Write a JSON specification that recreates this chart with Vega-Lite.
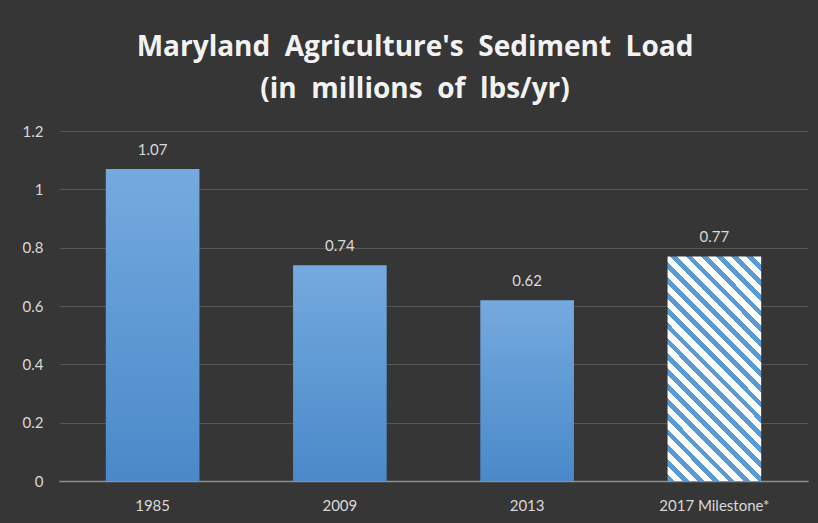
{
  "$schema": "https://vega.github.io/schema/vega-lite/v6.json",
  "width": 818,
  "height": 523,
  "autosize": {"type": "fit", "contains": "padding"},
  "padding": {"left": 22, "right": 10, "top": 34, "bottom": 10},
  "background": "#363636",
  "config": {
    "view": {"stroke": null},
    "font": "Lato",
    "title": {"font": "Open Sans"},
    "axis": {"labelFont": "Lato", "labelFontSize": 15, "labelColor": "#d9d9d9"}
  },
  "title": {
    "text": ["Maryland\u00a0 Agriculture's\u00a0 Sediment\u00a0 Load", "(in\u00a0 millions\u00a0 of\u00a0 lbs/yr)"],
    "font": "Open Sans",
    "fontSize": 28,
    "fontWeight": "bold",
    "color": "#f2f2f2",
    "lineHeight": 42,
    "anchor": "middle",
    "frame": "bounds",
    "offset": 20
  },
  "data": {
    "values": [
      {"label": "1985", "value": 1.07, "kind": "actual"},
      {"label": "2009", "value": 0.74, "kind": "actual"},
      {"label": "2013", "value": 0.62, "kind": "actual"},
      {"label": "2017 Milestone*", "value": 0.77, "kind": "milestone"}
    ]
  },
  "encoding": {
    "x": {
      "field": "label",
      "type": "nominal",
      "sort": null,
      "scale": {"paddingInner": 0.5, "paddingOuter": 0.25},
      "axis": {"title": null, "labelAngle": 0, "ticks": false, "domain": true, "domainColor": "#8f8f8f", "domainWidth": 1.5, "labelPadding": 17}
    },
    "y": {
      "field": "value",
      "type": "quantitative",
      "scale": {"domain": [0, 1.2], "nice": false},
      "axis": {"title": null, "values": [0, 0.2, 0.4, 0.6, 0.8, 1, 1.2], "format": "~g", "domain": false, "ticks": false, "gridColor": "#575757", "gridWidth": 1, "labelPadding": 16}
    }
  },
  "layer": [
    {
      "transform": [{"filter": "datum.kind == 'actual'"}],
      "mark": {
        "type": "bar",
        "fill": {
          "gradient": "linear", "x1": 0, "y1": 0, "x2": 0, "y2": 1,
          "stops": [{"offset": 0, "color": "#74aadf"}, {"offset": 1, "color": "#4a89c9"}]
        }
      }
    },
    {
      "transform": [{"filter": "datum.kind == 'milestone'"}],
      "mark": {
        "type": "bar",
        "fill": {
          "gradient": "linear", "x1": 0, "y1": 1, "x2": 0.5043, "y2": -0.2071,
          "stops": [
            {"offset": 0, "color": "#5b9bd5"}, {"offset": 0.02143, "color": "#5b9bd5"}, {"offset": 0.02143, "color": "#ffffff"}, {"offset": 0.04762, "color": "#ffffff"},
            {"offset": 0.04762, "color": "#5b9bd5"}, {"offset": 0.06905, "color": "#5b9bd5"}, {"offset": 0.06905, "color": "#ffffff"}, {"offset": 0.09524, "color": "#ffffff"},
            {"offset": 0.09524, "color": "#5b9bd5"}, {"offset": 0.11667, "color": "#5b9bd5"}, {"offset": 0.11667, "color": "#ffffff"}, {"offset": 0.14286, "color": "#ffffff"},
            {"offset": 0.14286, "color": "#5b9bd5"}, {"offset": 0.16429, "color": "#5b9bd5"}, {"offset": 0.16429, "color": "#ffffff"}, {"offset": 0.19048, "color": "#ffffff"},
            {"offset": 0.19048, "color": "#5b9bd5"}, {"offset": 0.2119, "color": "#5b9bd5"}, {"offset": 0.2119, "color": "#ffffff"}, {"offset": 0.2381, "color": "#ffffff"},
            {"offset": 0.2381, "color": "#5b9bd5"}, {"offset": 0.25952, "color": "#5b9bd5"}, {"offset": 0.25952, "color": "#ffffff"}, {"offset": 0.28571, "color": "#ffffff"},
            {"offset": 0.28571, "color": "#5b9bd5"}, {"offset": 0.30714, "color": "#5b9bd5"}, {"offset": 0.30714, "color": "#ffffff"}, {"offset": 0.33333, "color": "#ffffff"},
            {"offset": 0.33333, "color": "#5b9bd5"}, {"offset": 0.35476, "color": "#5b9bd5"}, {"offset": 0.35476, "color": "#ffffff"}, {"offset": 0.38095, "color": "#ffffff"},
            {"offset": 0.38095, "color": "#5b9bd5"}, {"offset": 0.40238, "color": "#5b9bd5"}, {"offset": 0.40238, "color": "#ffffff"}, {"offset": 0.42857, "color": "#ffffff"},
            {"offset": 0.42857, "color": "#5b9bd5"}, {"offset": 0.45, "color": "#5b9bd5"}, {"offset": 0.45, "color": "#ffffff"}, {"offset": 0.47619, "color": "#ffffff"},
            {"offset": 0.47619, "color": "#5b9bd5"}, {"offset": 0.49762, "color": "#5b9bd5"}, {"offset": 0.49762, "color": "#ffffff"}, {"offset": 0.52381, "color": "#ffffff"},
            {"offset": 0.52381, "color": "#5b9bd5"}, {"offset": 0.54524, "color": "#5b9bd5"}, {"offset": 0.54524, "color": "#ffffff"}, {"offset": 0.57143, "color": "#ffffff"},
            {"offset": 0.57143, "color": "#5b9bd5"}, {"offset": 0.59286, "color": "#5b9bd5"}, {"offset": 0.59286, "color": "#ffffff"}, {"offset": 0.61905, "color": "#ffffff"},
            {"offset": 0.61905, "color": "#5b9bd5"}, {"offset": 0.64048, "color": "#5b9bd5"}, {"offset": 0.64048, "color": "#ffffff"}, {"offset": 0.66667, "color": "#ffffff"},
            {"offset": 0.66667, "color": "#5b9bd5"}, {"offset": 0.6881, "color": "#5b9bd5"}, {"offset": 0.6881, "color": "#ffffff"}, {"offset": 0.71429, "color": "#ffffff"},
            {"offset": 0.71429, "color": "#5b9bd5"}, {"offset": 0.73571, "color": "#5b9bd5"}, {"offset": 0.73571, "color": "#ffffff"}, {"offset": 0.7619, "color": "#ffffff"},
            {"offset": 0.7619, "color": "#5b9bd5"}, {"offset": 0.78333, "color": "#5b9bd5"}, {"offset": 0.78333, "color": "#ffffff"}, {"offset": 0.80952, "color": "#ffffff"},
            {"offset": 0.80952, "color": "#5b9bd5"}, {"offset": 0.83095, "color": "#5b9bd5"}, {"offset": 0.83095, "color": "#ffffff"}, {"offset": 0.85714, "color": "#ffffff"},
            {"offset": 0.85714, "color": "#5b9bd5"}, {"offset": 0.87857, "color": "#5b9bd5"}, {"offset": 0.87857, "color": "#ffffff"}, {"offset": 0.90476, "color": "#ffffff"},
            {"offset": 0.90476, "color": "#5b9bd5"}, {"offset": 0.92619, "color": "#5b9bd5"}, {"offset": 0.92619, "color": "#ffffff"}, {"offset": 0.95238, "color": "#ffffff"},
            {"offset": 0.95238, "color": "#5b9bd5"}, {"offset": 0.97381, "color": "#5b9bd5"}, {"offset": 0.97381, "color": "#ffffff"}, {"offset": 1, "color": "#ffffff"}
          ]
        }
      }
    },
    {
      "mark": {"type": "text", "baseline": "bottom", "dy": -11, "fontSize": 15, "font": "Lato", "color": "#d9d9d9"},
      "encoding": {"text": {"field": "value", "type": "quantitative", "format": ".2f"}}
    }
  ]
}
